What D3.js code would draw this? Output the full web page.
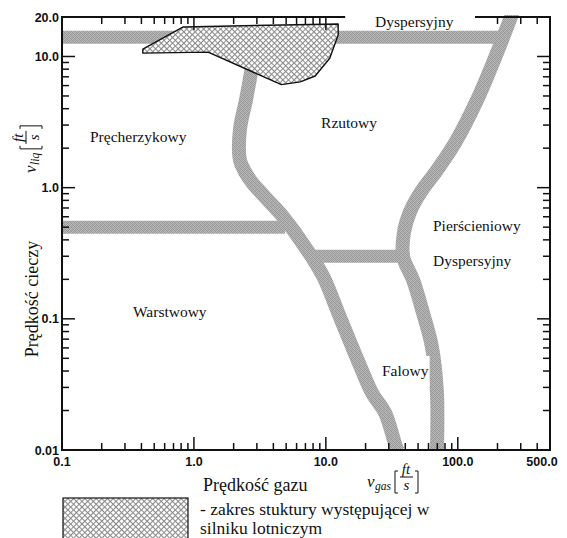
<!DOCTYPE html>
<html><head><meta charset="utf-8">
<script src="https://cdn.jsdelivr.net/npm/d3@7"></script>
<style>html,body{margin:0;padding:0;background:#fff;} svg{display:block;}</style>
</head><body><svg id="c" width="567" height="538"></svg>
<script>
// ---------------- data ----------------
const xDomain = [0.1, 500];
const yDomain = [0.01, 20];
const xTickMajor = [1, 10, 100];
const xTickMinor = [0.2,0.3,0.4,0.5,0.6,0.7,0.8,0.9, 2,3,4,5,6,7,8,9, 20,30,40,50,60,70,80,90, 200,300,400];
const xTickLabelValues = [0.1, 1, 10, 100, 500];
const xTickLabels = ["0.1", "1.0", "10.0", "100.0", "500.0"];
const yTickMajor = [0.1, 1, 10];
const yTickMinor = [0.02,0.03,0.04,0.05,0.06,0.07,0.08,0.09, 0.2,0.3,0.4,0.5,0.6,0.7,0.8,0.9, 2,3,4,5,6,7,8,9];
const yTickLabelValues = [0.01, 0.1, 1, 10, 20];
const yTickLabels = ["0.01", "0.1", "1.0", "10.0", "20.0"];
const topAxisGap = [14, 135];

// transition bands [gas velocity, liquid velocity]
const bandTop = [[0.1, 14], [220, 14]];
const bandLeftHoriz = [[0.1, 0.5], [4.9, 0.5]];
const bandMidHoriz = [[7.6, 0.3], [38.5, 0.3]];
const bandMiddleCurve = [[2.75, 8.2], [2.48, 4.66], [2.23, 2.75], [2.23, 1.63], [2.44, 1.32], [2.75, 1.10],
  [3.45, 0.85], [4.49, 0.64], [5.53, 0.49], [6.95, 0.353], [8.27, 0.271], [9.84, 0.198], [12.4, 0.111],
  [17.8, 0.046], [22.4, 0.0272], [28.1, 0.0192], [34, 0.0106], [35.2, 0.0098]];
const bandRightCurve = [[262, 22], [202, 11.2], [140, 4.66], [95.2, 2.19], [69.5, 1.36], [52.6, 0.93],
  [43.4, 0.653], [39.1, 0.459], [38.6, 0.296], [45.8, 0.198], [54.5, 0.111],
  [63.7, 0.061], [69.5, 0.0272], [69.5, 0.0098]];
// aircraft-engine operating region
const engineRegion = [[0.41, 10.6], [0.41, 11.4], [0.83, 16.8], [12.4, 17.7], [12.4, 14.6], [10.7, 9.7],
  [8.3, 7.1], [6.4, 6.4], [4.6, 6.1], [1.28, 10.8]];

const regionNames = ["Pręcherzykowy", "Rzutowy", "Dyspersyjny", "Pierścieniowy", "Dyspersyjny", "Warstwowy", "Falowy"];
const regionX = [0.163, 9.2, 23.6, 64.9, 64.9, 0.345, 26.6];
const regionY = [2.23, 2.85, 16.8, 0.468, 0.253, 0.103, 0.0367];

const xTitle = "Prędkość gazu";
const yTitle = "Prędkość cieczy";
const legendText = ["- zakres stuktury występującej w", "silniku lotniczym"];

// ---------------- drawing ----------------
const svg = d3.select("#c");
const x = d3.scaleLog().domain(xDomain).range([62, 550]);
const y = d3.scaleLog().domain(yDomain).range([450, 17]);

const defs = svg.append("defs");
const stipShades = ["#9a9a9a","#b4b4b4","#a2a2a2","#b8b8b8",
                    "#b2b2b2","#949494","#bcbcbc","#9e9e9e",
                    "#a0a0a0","#bababa","#989898","#b0b0b0",
                    "#b6b6b6","#a4a4a4","#b2b2b2","#969696"];
const stip = defs.append("pattern").attr("id", "stip").attr("patternUnits", "userSpaceOnUse")
  .attr("width", 4).attr("height", 4);
stipShades.forEach((c, i) => {
  stip.append("rect").attr("x", i % 4).attr("y", Math.floor(i / 4)).attr("width", 1).attr("height", 1)
    .attr("fill", c).attr("shape-rendering", "crispEdges");
});

const hatch = defs.append("pattern").attr("id", "hatch").attr("patternUnits", "userSpaceOnUse")
  .attr("width", 4).attr("height", 4).attr("patternTransform", "rotate(45)");
hatch.append("rect").attr("width", 4).attr("height", 4).attr("fill", "#fff");
hatch.append("line").attr("x1", 0).attr("y1", 0.5).attr("x2", 4).attr("y2", 0.5).attr("stroke", "#8a8a8a").attr("stroke-width", 1.1);
hatch.append("line").attr("x1", 0.5).attr("y1", 0).attr("x2", 0.5).attr("y2", 4).attr("stroke", "#8a8a8a").attr("stroke-width", 1.1);

defs.append("clipPath").attr("id", "plotclip").append("rect")
  .attr("x", x(xDomain[0])).attr("y", y(yDomain[1]) - 2)
  .attr("width", x(xDomain[1]) - x(xDomain[0])).attr("height", y(yDomain[0]) - y(yDomain[1]) + 2);

const plot = svg.append("g").attr("clip-path", "url(#plotclip)");
const lineStraight = d3.line().x(d => x(d[0])).y(d => y(d[1]));
const lineCurve = d3.line().x(d => x(d[0])).y(d => y(d[1])).curve(d3.curveCatmullRom.alpha(0.5));

[bandTop, bandLeftHoriz, bandMidHoriz].forEach(b => {
  plot.append("path").attr("d", lineStraight(b)).attr("fill", "none")
    .attr("stroke", "url(#stip)").attr("stroke-width", 13);
});
[bandMiddleCurve, bandRightCurve].forEach(b => {
  plot.append("path").attr("d", lineCurve(b)).attr("fill", "none")
    .attr("stroke", "url(#stip)").attr("stroke-width", 14).attr("stroke-linejoin", "round");
});

// engine region
plot.append("path").attr("d", lineStraight(engineRegion) + "Z")
  .attr("fill", "url(#hatch)").attr("stroke", "#111").attr("stroke-width", 1.4).attr("stroke-linejoin", "round");

// region labels
const serif = "'Liberation Serif', 'Times New Roman', serif";
regionNames.forEach((n, i) => {
  const t = svg.append("text").attr("x", x(regionX[i])).attr("y", y(regionY[i]))
    .attr("font-family", serif).attr("font-size", 15.5).attr("fill", "#111").text(n);
  if (n === "Falowy") {
    const bb = t.node().getBBox();
    svg.insert("rect", "text").attr("x", bb.x - 3).attr("y", bb.y - 6)
      .attr("width", bb.width + 4).attr("height", bb.height + 14).attr("fill", "#fff");
  }
});

// ---------------- axes ----------------
const ax = svg.append("g").attr("stroke", "#111").attr("fill", "none");
const X0 = x(xDomain[0]), X1 = x(xDomain[1]), Y0 = y(yDomain[0]), Y1 = y(yDomain[1]);
ax.append("line").attr("x1", X0 - 1).attr("y1", Y0).attr("x2", X1 + 1).attr("y2", Y0).attr("stroke-width", 2);
ax.append("line").attr("x1", X0).attr("y1", Y0).attr("x2", X0).attr("y2", Y1).attr("stroke-width", 2);
ax.append("line").attr("x1", X1).attr("y1", Y0).attr("x2", X1).attr("y2", Y1).attr("stroke-width", 2);
ax.append("line").attr("x1", X0 - 1).attr("y1", Y1).attr("x2", x(topAxisGap[0])).attr("y2", Y1).attr("stroke-width", 2);
ax.append("line").attr("x1", x(topAxisGap[1])).attr("y1", Y1).attr("x2", X1 + 1).attr("y2", Y1).attr("stroke-width", 2);

const inGap = v => v > topAxisGap[0] && v < topAxisGap[1];
function xticks(vals, len) {
  vals.forEach(v => {
    ax.append("line").attr("x1", x(v)).attr("x2", x(v)).attr("y1", Y0).attr("y2", Y0 - len).attr("stroke-width", 1.5);
    if (!inGap(v)) ax.append("line").attr("x1", x(v)).attr("x2", x(v)).attr("y1", Y1).attr("y2", Y1 + len).attr("stroke-width", 1.5);
  });
}
function yticks(vals, len) {
  vals.forEach(v => {
    ax.append("line").attr("y1", y(v)).attr("y2", y(v)).attr("x1", X0).attr("x2", X0 + len).attr("stroke-width", 1.5);
    ax.append("line").attr("y1", y(v)).attr("y2", y(v)).attr("x1", X1).attr("x2", X1 - len).attr("stroke-width", 1.5);
  });
}
xticks(xTickMinor, 7); xticks(xTickMajor, 13);
yticks(yTickMinor, 7); yticks(yTickMajor, 13);

const sansB = "'Liberation Sans', Arial, sans-serif";
xTickLabelValues.forEach((v, i) => {
  svg.append("text").attr("x", x(v) + (i === xTickLabelValues.length - 1 ? -8 : 0)).attr("y", Y0 + 16)
    .attr("text-anchor", "middle").attr("font-family", sansB).attr("font-weight", "bold")
    .attr("font-size", 12.5).attr("fill", "#111").text(xTickLabels[i]);
});
yTickLabelValues.forEach((v, i) => {
  svg.append("text").attr("x", X0 - 3).attr("y", y(v) + 4.5)
    .attr("text-anchor", "end").attr("font-family", sansB).attr("font-weight", "bold")
    .attr("font-size", 12.5).attr("fill", "#111").text(yTickLabels[i]);
});

// axis titles
svg.append("text").attr("x", 203).attr("y", 491).attr("font-family", serif).attr("font-size", 18)
  .attr("fill", "#111").text(xTitle);
svg.append("text").attr("transform", "translate(38,299) rotate(-90)").attr("text-anchor", "middle")
  .attr("font-family", serif).attr("font-size", 18).attr("fill", "#111").text(yTitle);

// math unit labels
function unitLabel(g, sub) {
  const it = "'Liberation Serif', 'DejaVu Serif', serif";
  g.append("text").attr("x", 0).attr("y", 0).attr("font-family", it).attr("font-style", "italic")
    .attr("font-size", 17).attr("fill", "#111").text("v");
  const st = g.append("text").attr("x", 8).attr("y", 3).attr("font-family", it).attr("font-style", "italic")
    .attr("font-size", 11.5).attr("fill", "#111").text(sub);
  const bx = 8 + st.node().getComputedTextLength() + 4;
  const p = g.append("g").attr("stroke", "#111").attr("fill", "none").attr("stroke-width", 1);
  p.append("path").attr("d", `M${bx + 3},-16 H${bx} V6 H${bx + 3}`);
  g.append("text").attr("x", bx + 11).attr("y", -13).attr("text-anchor", "middle").attr("font-family", it)
    .attr("font-style", "italic").attr("font-size", 15).attr("fill", "#111").text("ft");
  p.append("line").attr("x1", bx + 5).attr("x2", bx + 18).attr("y1", -10).attr("y2", -10);
  g.append("text").attr("x", bx + 11.5).attr("y", 3).attr("text-anchor", "middle").attr("font-family", it)
    .attr("font-style", "italic").attr("font-size", 15).attr("fill", "#111").text("s");
  p.append("path").attr("d", `M${bx + 20},-16 H${bx + 23} V6 H${bx + 20}`);
}
unitLabel(svg.append("g").attr("transform", "translate(367,487)"), "gas");
unitLabel(svg.append("g").attr("transform", "translate(36,173) rotate(-90)"), "liq");

// legend
svg.append("rect").attr("x", 63).attr("y", 498).attr("width", 125).attr("height", 44)
  .attr("fill", "url(#hatch)").attr("stroke", "#111").attr("stroke-width", 1.2);
legendText.forEach((t, i) => {
  svg.append("text").attr("x", 200).attr("y", 515 + i * 19).attr("font-family", serif)
    .attr("font-size", 17.5).attr("fill", "#111").text(t);
});
</script></body></html>
